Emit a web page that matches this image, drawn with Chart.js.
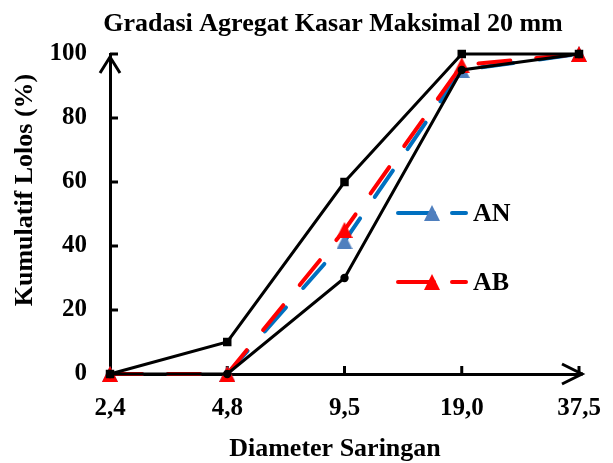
<!DOCTYPE html>
<html>
<head>
<meta charset="utf-8">
<script src="https://cdn.jsdelivr.net/npm/chart.js@4/dist/chart.umd.min.js"></script>
<style>
  html, body { margin:0; padding:0; background:#fff; }
  #wrap { width:613px; height:463px; }
</style>
</head>
<body>
<div id="wrap"><canvas id="chart" width="613" height="463"></canvas></div>
<script>
// Data
const categories = ['2,4','4,8','9,5','19,0','37,5'];
const upperLimit = [0,10,60,100,100];
const lowerLimit = [0,0,30,95,100];
const anValues = [0,0,41.5,95,100];
const abValues = [0,0,45,96.5,100];
const yTicks = [0,20,40,60,80,100];

const titleText = 'Gradasi Agregat Kasar Maksimal 20 mm';
const xTitle = 'Diameter Saringan';
const yTitle = 'Kumulatif Lolos (%)';

const SERIF = '"Liberation Serif", "Times New Roman", serif';
const BLUE = '#0070C0', BLUE_MK = '#4F7FBE', RED = '#FF0000';

// triangle marker centred in its box (like Excel)
function triangle(color, s){
  const c=document.createElement('canvas'); c.width=s; c.height=s;
  const g=c.getContext('2d');
  g.fillStyle=color;
  g.beginPath(); g.moveTo(s/2,0); g.lineTo(s,s); g.lineTo(0,s); g.closePath(); g.fill();
  return c;
}
const triBlue=triangle(BLUE_MK,16), triRed=triangle(RED,16);

// extras: inward ticks, arrows, titles, legend
const extras = {
  id:'extras',
  beforeDatasetsDraw(chart){
    const {ctx, chartArea:a, scales:{x,y}} = chart;
    ctx.save();
    ctx.strokeStyle='#000'; ctx.lineWidth=3; ctx.lineCap='butt';
    // ticks
    yTicks.forEach(v=>{ const py=y.getPixelForValue(v); ctx.beginPath(); ctx.moveTo(a.left,py); ctx.lineTo(a.left+8,py); ctx.stroke(); });
    categories.forEach((c,i)=>{ if(i===0) return; const px=x.getPixelForValue(i); ctx.beginPath(); ctx.moveTo(px,a.bottom); ctx.lineTo(px,a.bottom-8); ctx.stroke(); });
    // arrows
    ctx.beginPath(); ctx.moveTo(a.right,a.bottom); ctx.lineTo(a.right+4,a.bottom); ctx.stroke();
    ctx.lineJoin='miter';
    ctx.beginPath(); ctx.moveTo(a.left-10,a.top+19); ctx.lineTo(a.left,a.top+3); ctx.lineTo(a.left+10,a.top+19); ctx.stroke();
    ctx.beginPath(); ctx.moveTo(a.right-17,a.bottom-10); ctx.lineTo(a.right+3,a.bottom); ctx.lineTo(a.right-17,a.bottom+10); ctx.stroke();
    ctx.restore();
  },
  afterDraw(chart){
    const {ctx} = chart;
    ctx.save();
    // titles
    ctx.fillStyle='#000';
    ctx.textAlign='center'; ctx.textBaseline='alphabetic';
    ctx.font='bold 26px '+SERIF;
    ctx.fillText(titleText, 333, 31);
    ctx.fillText(xTitle, 335, 456);
    ctx.save(); ctx.translate(32,190); ctx.rotate(-Math.PI/2); ctx.fillText(yTitle,0,0); ctx.restore();
    // legend
    const items=[['AN',BLUE,triBlue,213],['AB',RED,triRed,282]];
    items.forEach(([label,col,tri,ly])=>{
      ctx.strokeStyle=col; ctx.lineWidth=4; ctx.lineCap='round';
      ctx.setLineDash([36,18]);
      ctx.beginPath(); ctx.moveTo(398,ly); ctx.lineTo(466,ly); ctx.stroke();
      ctx.setLineDash([]);
      ctx.drawImage(tri,432-8,ly-8);
      ctx.fillStyle='#000'; ctx.textAlign='left'; ctx.textBaseline='middle';
      ctx.font='bold 26px '+SERIF;
      ctx.fillText(label,473,ly+1);
    });
    ctx.restore();
  }
};

const tickFont={family:SERIF, size:25, weight:'bold'};

new Chart(document.getElementById('chart'),{
  type:'line',
  data:{
    labels:categories,
    datasets:[
      {label:'Batas Atas',data:upperLimit,borderColor:'#000',borderWidth:3,pointStyle:'rect',pointRadius:6,pointBackgroundColor:'#000',pointBorderWidth:0,tension:0},
      {label:'Batas Bawah',data:lowerLimit,borderColor:'#000',borderWidth:3,pointStyle:'circle',pointRadius:4.2,pointBackgroundColor:'#000',pointBorderWidth:0,tension:0},
      {label:'AB',data:abValues,borderColor:RED,borderWidth:4,borderDash:[32,26],borderCapStyle:'round',pointStyle:triRed,pointRadius:8,tension:0},
      {label:'AN',data:anValues,borderColor:BLUE,borderWidth:4,borderDash:[32,26],borderCapStyle:'round',pointStyle:triBlue,pointRadius:8,tension:0}
    ]
  },
  options:{
    responsive:false,
    animation:false,
    clip:false,
    layout:{padding:{top:54,right:34,left:0,bottom:0}},
    plugins:{legend:{display:false},title:{display:false},tooltip:{enabled:false}},
    scales:{
      x:{
        type:'category',offset:false,
        grid:{display:false,drawTicks:false},
        border:{display:true,color:'#000',width:3},
        ticks:{color:'#000',font:tickFont,padding:20,maxRotation:0,autoSkip:false},
        afterFit:s=>{ s.height=89; s.paddingLeft=0; s.paddingRight=0; }
      },
      y:{
        min:0,max:100,
        grid:{display:false,drawTicks:false},
        border:{display:true,color:'#000',width:3},
        ticks:{color:'#000',font:tickFont,padding:23,stepSize:20,callback:v=>yTicks.includes(v)?String(v):''},
        afterFit:s=>{ s.width=110; s.paddingTop=0; s.paddingBottom=0; }
      }
    }
  },
  plugins:[extras]
});
</script>
</body>
</html>
